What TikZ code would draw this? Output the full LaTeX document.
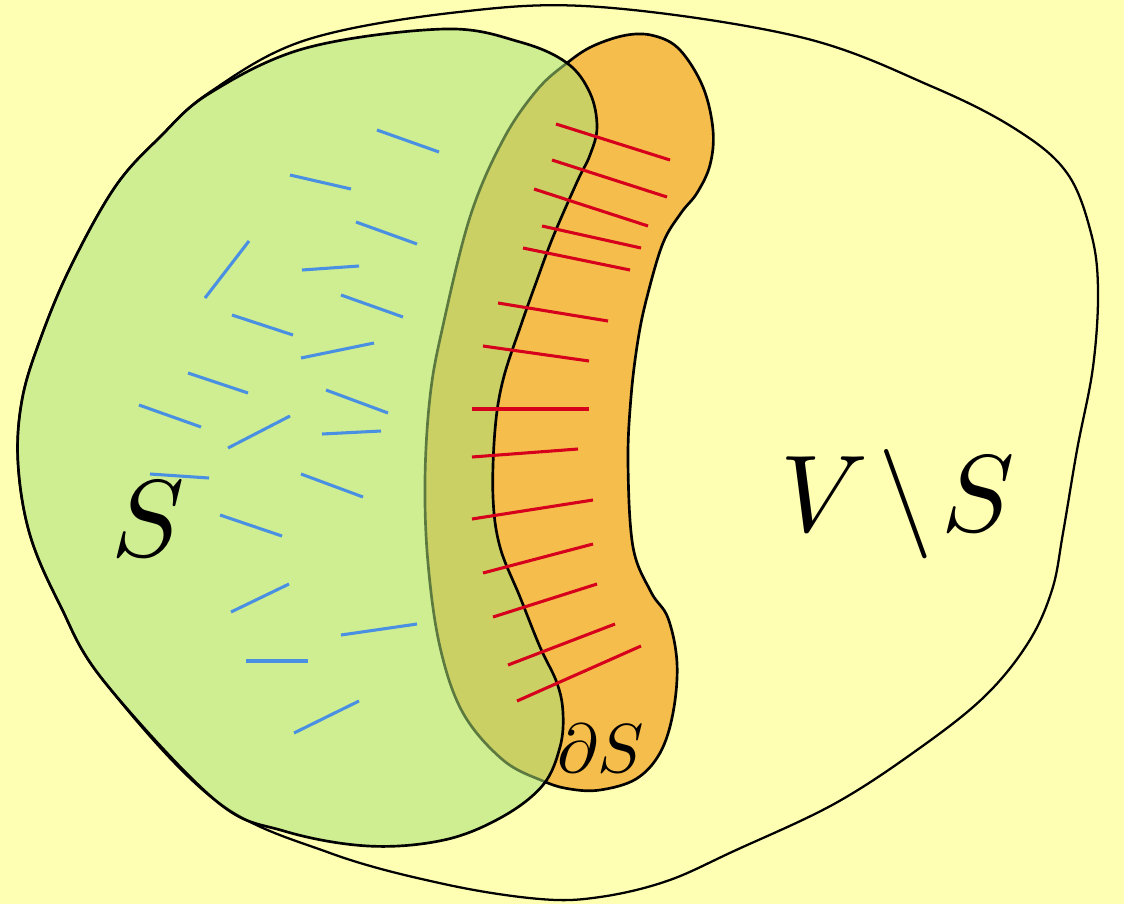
\documentclass[tikz,border=0pt]{standalone}
\usepackage{graphicx}
\usepackage{tikz}
\definecolor{bgyellow}{RGB}{255,255,180}
\definecolor{bandorange}{RGB}{245,189,76}
\definecolor{sgreen}{RGB}{168,224,118}
\definecolor{bluelink}{RGB}{74,144,226}
\definecolor{redlink}{RGB}{214,0,28}
\tikzset{
  outline/.style={draw=black, line width=2pt, line join=round},
  inner/.style={line width=2.3pt, draw=bluelink},
  cut/.style={line width=2.3pt, draw=redlink},
  bigmath/.style={inner sep=0pt, anchor=base},
}
\begin{document}
\begin{tikzpicture}[x=0.75pt,y=-0.75pt]
\fill[bgyellow] (0,0) rectangle (1124,904);
\useasboundingbox (0,0) rectangle (1124,904);
% outer set V
\path[outline, fill=bgyellow, line width=1.7pt] plot[smooth cycle, tension=0.6] coordinates {
 (600,7) (800,37) (933,87) (1017,130) (1067,173) (1091,233) (1098,290) (1093,367)
 (1077,450) (1063,533) (1052,590) (1028,643) (984,697) (917,750) (834,804) (734,851)
 (667,881) (600,897) (540,899) (444,884) (330,853) (215,800) (103,680) (60,605)
 (30,535) (18,463) (22,400) (40,340) (70,268) (115,187) (160,137) (210,92) (306,40) (459,12)};
% boundary band dS
\path[outline, fill=bandorange] plot[smooth cycle, tension=0.6] coordinates {
 (567,63) (593,46) (627,35) (655,36) (680,50) (703,87) (713,130) (710,165)
 (697,193) (681,213) (663,243) (647,297) (638,340) (631,397) (628,463) (633,547)
 (651,592) (668,618) (677,663) (673,713) (660,753) (636,779) (600,790) (570,789)
 (543,781) (503,760) (463,713) (440,647) (428,563) (425,480) (430,397) (442,330)
 (470,217) (503,140) (537,90)};
% set S
\def\Spath{plot[smooth cycle, tension=0.6] coordinates {
 (444,29) (520,42) (567,63) (590,93) (597,127) (590,155) (577,182) (553,237)
 (537,280) (521,325) (503,380) (495,430) (493,497) (500,547) (520,597) (540,647)
 (557,683) (563,713) (560,747) (543,785) (502,817) (444,840) (368,846) (284,831)
 (215,800) (103,680) (60,605) (30,535) (18,463) (22,400) (40,340)
 (70,268) (115,187) (160,137) (210,93) (306,48)}}
\fill[sgreen, fill opacity=0.55] \Spath;
\draw[outline] \Spath;
% internal edges (blue)
\foreach \a/\b/\c/\d in {
 377/130/439/152, 290/175/351/189, 356/222/417/244, 249/241/205/298,
 302/270/359/266, 341/295/403/317, 232/315/293/335, 301/358/374/343,
 188/373/248/393, 326/390/388/413, 139/405/201/427, 228/448/290/416,
 322/434/381/431, 150/474/209/478, 301/474/363/497, 220/515/282/536,
 231/612/289/584, 341/635/417/624, 246/661/308/661, 294/733/359/701}
 \draw[inner] (\a,\b) -- (\c,\d);
% cut edges (red)
\foreach \a/\b/\c/\d in {
 556/124/670/160, 552/160/667/197, 534/189/648/226, 542/226/641/248,
 523/248/630/270, 498/303/608/321, 483/346/589/361, 472/409/589/409,
 472/457/578/449, 472/519/593/500, 483/573/593/544, 493/617/597/584,
 508/665/615/624, 517/701/641/646}
 \draw[cut] (\a,\b) -- (\c,\d);
% labels
\node[bigmath] (labS) at (148,556) {\scalebox{8.2}{$S$}};
\node[bigmath] (labVS) at (898,531) {\scalebox{8.2}{$V\mkern1.5mu\mathord{\setminus}\mkern1.5mu S$}};
\node[bigmath] (labdS) at (601,772) {\scalebox{5.2}{$\partial S$}};
\end{tikzpicture}
\end{document}
